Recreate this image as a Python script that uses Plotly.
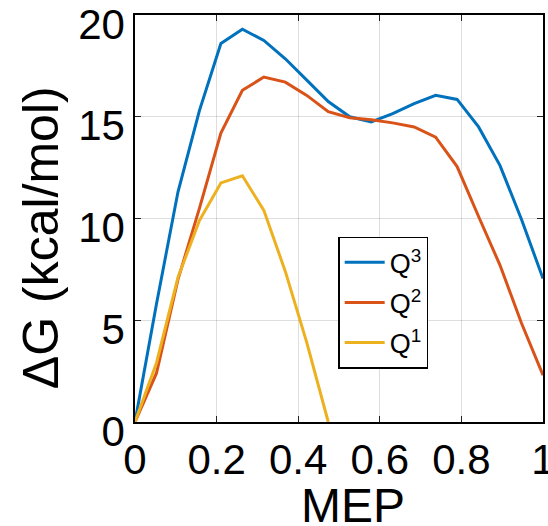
import numpy as np
import plotly.graph_objects as go

# Reaction coordinate along the minimum energy path (20 images)
mep = np.linspace(0, 1, 20)

# Free energy profiles (kcal/mol)
dg_q3 = [0, 5.8, 11.3, 15.3, 18.6, 19.3, 18.75, 17.85, 16.8, 15.75,
         15.0, 14.75, 15.15, 15.65, 16.05, 15.85, 14.5, 12.6, 9.95, 7.05]
dg_q2 = [0, 2.4, 7.0, 10.5, 14.2, 16.3, 16.95, 16.7, 16.05, 15.25,
         14.95, 14.85, 14.7, 14.5, 14.0, 12.55, 10.1, 7.7, 4.85, 2.3]
dg_q1 = [0, 2.9, 7.1, 9.9, 11.75, 12.1, 10.4, 7.4, 3.9, 0]

series = [
    ("Q<sup>3</sup>", mep, dg_q3, "#0072BD"),
    ("Q<sup>2</sup>", mep, dg_q2, "#D95319"),
    ("Q<sup>1</sup>", mep[:len(dg_q1)], dg_q1, "#EDB120"),
]

x_ticks = [0, 0.2, 0.4, 0.6, 0.8, 1]
x_ticklabels = ["0", "0.2", "0.4", "0.6", "0.8", "1"]
y_ticks = [0, 5, 10, 15, 20]

fig = go.Figure()
for i, (name, x, y, color) in enumerate(series):
    fig.add_trace(go.Scatter(x=x, y=y, mode="lines", name=name,
                             legendgroup=f"g{i}",
                             line=dict(color=color, width=3)))

font_family = "Liberation Sans, Arial, sans-serif"
axis_common = dict(
    showline=True, linecolor="black", linewidth=1.5, mirror="ticks",
    ticks="inside", ticklen=6, tickwidth=1.2, tickcolor="#222",
    showgrid=True, gridcolor="rgba(0,0,0,0.13)", gridwidth=1,
    zeroline=False, ticklabeloverflow="allow", automargin=False,
    tickfont=dict(family=font_family, size=42, color="black"),
)

fig.update_xaxes(range=[0, 1], tickvals=x_ticks, ticktext=x_ticklabels,
                 **axis_common)
fig.update_yaxes(range=[0, 20], tickvals=y_ticks, ticklabelshift=9,
                 **axis_common)

# Axis titles
fig.add_annotation(text="MEP", xref="paper", yref="paper", x=0.534, y=0,
                   yshift=-83, xanchor="center", yanchor="middle",
                   showarrow=False,
                   font=dict(family=font_family, size=48, color="black"))
fig.add_annotation(text="ΔG (kcal/mol)", xref="paper", yref="paper",
                   x=-0.230, y=0.452, textangle=-90,
                   xanchor="center", yanchor="middle", showarrow=False,
                   font=dict(family=font_family, size=50, color="black"))

fig.update_layout(
    width=548, height=526,
    margin=dict(l=135, r=5, t=15, b=104),
    paper_bgcolor="white", plot_bgcolor="white",
    font=dict(family=font_family, color="black"),
    legend=dict(x=0.498, y=0.455, xanchor="left", yanchor="top",
                bgcolor="white", bordercolor="black", borderwidth=1.5,
                font=dict(family=font_family, size=27, color="black"),
                tracegroupgap=2, itemwidth=40),
    showlegend=True,
)

fig.write_html("out.html")
